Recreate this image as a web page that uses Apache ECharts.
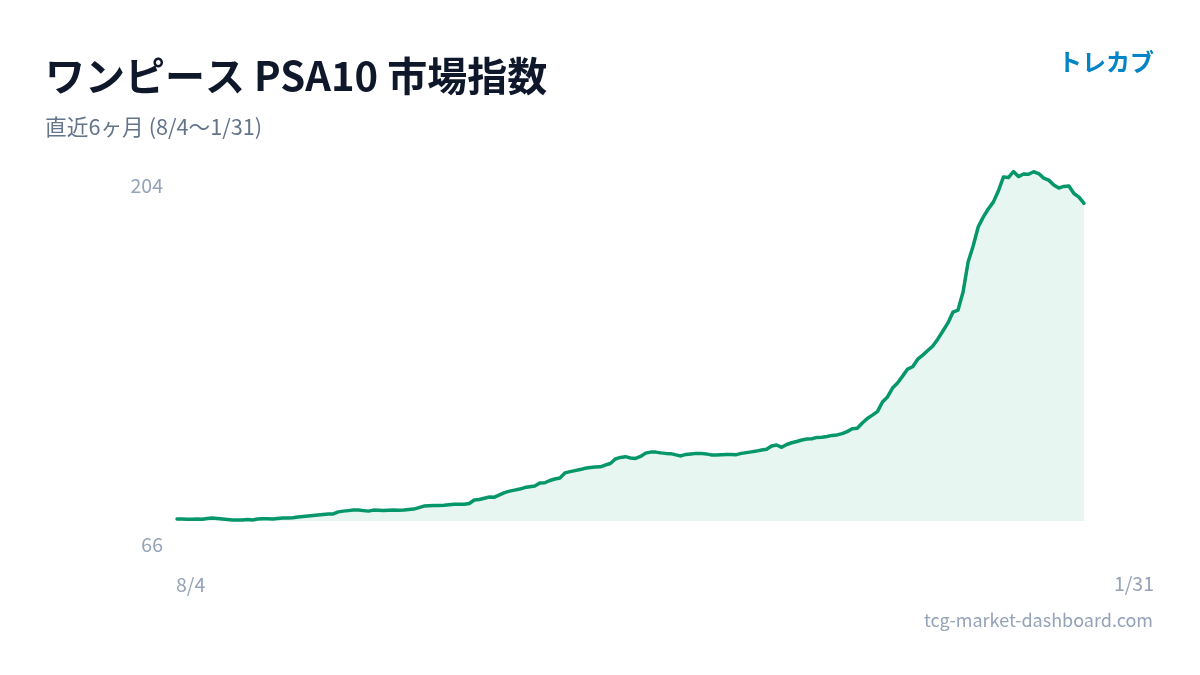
<!DOCTYPE html>
<html>
<head>
<meta charset="utf-8">
<script src="https://cdn.jsdelivr.net/npm/echarts@6/dist/echarts.min.js"></script>
<style>
html,body{margin:0;padding:0;background:#ffffff;}
#chart{width:1200px;height:675px;}
</style>
</head>
<body>
<div id="chart"></div>
<script>
const titleText = 'ワンピース PSA10 市場指数';
const subtitleText = '直近6ヶ月 (8/4〜1/31)';
const brandText = 'トレカブ';
const footerText = 'tcg-market-dashboard.com';
const xTickLabels = ['8/4', '1/31'];
const yTickLabels = ['204', '66'];
const yMin = 66;
const yMax = 204;

const indexValues = [
  66.8, 66.8, 66.7, 66.7, 66.8, 66.7, 67.0, 67.2, 67.0, 66.8,
  66.6, 66.4, 66.4, 66.4, 66.6, 66.4, 66.8, 66.9, 66.9, 66.8,
  67.0, 67.2, 67.2, 67.3, 67.6, 67.8, 68.0, 68.2, 68.4, 68.6,
  68.8, 68.8, 69.6, 69.9, 70.1, 70.3, 70.3, 70.1, 69.9, 70.3,
  70.2, 70.1, 70.2, 70.3, 70.2, 70.3, 70.5, 70.7, 71.3, 71.9,
  72.0, 72.1, 72.1, 72.2, 72.4, 72.6, 72.6, 72.6, 72.9, 74.3,
  74.5, 75.0, 75.5, 75.4, 76.3, 77.2, 77.8, 78.2, 78.6, 79.2,
  79.5, 79.8, 81.0, 81.1, 82.0, 82.6, 83.0, 85.0, 85.5, 85.9,
  86.3, 86.8, 87.1, 87.3, 87.4, 88.1, 88.7, 90.5, 91.1, 91.4,
  90.9, 90.7, 91.5, 92.8, 93.2, 93.2, 92.9, 92.7, 92.6, 92.1,
  91.7, 92.3, 92.5, 92.7, 92.7, 92.5, 92.1, 92.1, 92.2, 92.3,
  92.3, 92.2, 92.7, 93.0, 93.3, 93.6, 94.0, 94.3, 95.6, 96.0,
  95.1, 96.2, 96.9, 97.4, 98.0, 98.4, 98.5, 99.0, 99.1, 99.4,
  99.8, 100.0, 100.5, 101.3, 102.4, 102.6, 104.7, 106.5, 107.8, 109.2,
  113.0, 115.0, 118.5, 120.5, 123.2, 126.0, 126.9, 129.9, 131.5, 133.3,
  135.1, 137.9, 141.0, 144.2, 148.5, 149.3, 156.4, 168.3, 174.6, 182.1,
  186.0, 189.2, 191.9, 196.3, 201.8, 201.6, 204.0, 202.0, 203.0, 202.9,
  203.9, 203.2, 201.4, 200.6, 198.7, 197.5, 198.1, 198.3, 195.3, 193.9,
  191.4
];

// Dates 8/4 .. 1/31 as category labels
const dates = [];
(function(){
  const d = new Date(2024, 7, 4);
  for (let i = 0; i < indexValues.length; i++) {
    dates.push((d.getMonth() + 1) + '/' + d.getDate());
    d.setDate(d.getDate() + 1);
  }
})();

const FONT = '"Noto Sans CJK JP", "Noto Sans", sans-serif';
const chart = echarts.init(document.getElementById('chart'), null, {renderer: 'canvas'});

chart.setOption({
  backgroundColor: '#ffffff',
  animation: false,
  grid: {left: 177, right: 116, top: 171.5, bottom: 154},
  xAxis: {
    type: 'category',
    data: dates,
    boundaryGap: false,
    show: false
  },
  yAxis: {
    type: 'value',
    min: yMin,
    max: yMax,
    show: false
  },
  series: [{
    type: 'line',
    data: indexValues,
    showSymbol: false,
    smooth: false,
    lineStyle: {color: '#059669', width: 3.5, join: 'round', cap: 'round'},
    areaStyle: {color: 'rgba(5,150,105,0.13)', origin: 'start'}
  }],
  graphic: [
    {type: 'text', style: {text: titleText, x: 45, y: 76, textAlign: 'left', textVerticalAlign: 'middle',
      font: 'bold 40px ' + FONT, fill: '#0f172a'}},
    {type: 'text', style: {text: subtitleText, x: 45, y: 127, textAlign: 'left', textVerticalAlign: 'middle',
      font: '21.7px ' + FONT, fill: '#64748b'}},
    {type: 'text', style: {text: brandText, x: 1154, y: 62, textAlign: 'right', textVerticalAlign: 'middle',
      font: 'bold 24px ' + FONT, fill: '#0284c7'}},
    {type: 'text', style: {text: yTickLabels[0], x: 163, y: 186, textAlign: 'right', textVerticalAlign: 'middle',
      font: '19.5px ' + FONT, fill: '#94a3b8'}},
    {type: 'text', style: {text: yTickLabels[1], x: 163, y: 545, textAlign: 'right', textVerticalAlign: 'middle',
      font: '19.5px ' + FONT, fill: '#94a3b8'}},
    {type: 'text', style: {text: xTickLabels[0], x: 176, y: 585, textAlign: 'left', textVerticalAlign: 'middle',
      font: '19.5px ' + FONT, fill: '#94a3b8'}},
    {type: 'text', style: {text: xTickLabels[1], x: 1154, y: 584, textAlign: 'right', textVerticalAlign: 'middle',
      font: '19.5px ' + FONT, fill: '#94a3b8'}},
    {type: 'text', style: {text: footerText, x: 1153, y: 620, textAlign: 'right', textVerticalAlign: 'middle',
      font: '18px ' + FONT, fill: '#94a3b8'}}
  ]
});
</script>
</body>
</html>
